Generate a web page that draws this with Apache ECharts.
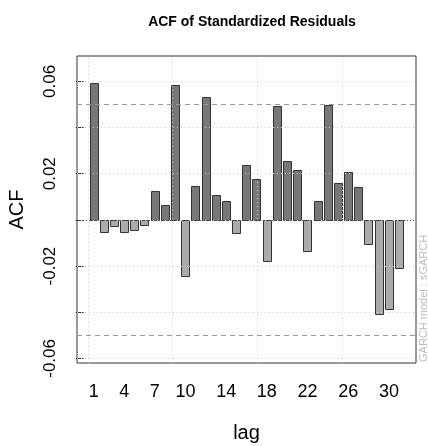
<!DOCTYPE html>
<html>
<head>
<meta charset="utf-8">
<script src="https://cdn.jsdelivr.net/npm/echarts@6/dist/echarts.min.js"></script>
<style>
  html, body { margin: 0; padding: 0; background: #fff; }
  #chart { width: 428px; height: 446px; }
</style>
</head>
<body>
<div id="chart"></div>
<script>
// lags and autocorrelations
const lags = [1, 2, 3, 4, 5, 6, 7, 8, 9, 10, 11, 12, 13, 14, 15, 16, 17, 18, 19, 20, 21, 22, 23, 24, 25, 26, 27, 28, 29, 30, 31]
const acf = [
  0.0593, -0.0051, -0.0025, -0.0051, -0.0045, -0.0022, 0.0123, 0.0065, 0.0584, -0.0242,
  0.0145, 0.0532, 0.0108, 0.0080, -0.0058, 0.0236, 0.0178, -0.0178, 0.0493, 0.0253,
  0.0218, -0.0136, 0.0081, 0.0499, 0.0159, 0.0208, 0.0142, -0.0106, -0.0406, -0.0388,
  -0.0207
]
const confBound = 0.0512

// tick labels
const xLabels = [1, 4, 7, 10, 14, 18, 22, 26, 30]
const yTicks = [-0.06, -0.04, -0.02, 0, 0.02, 0.04, 0.06]
const yLabels = [-0.06, -0.02, 0.02, 0.06]
// R grid() lines sit at barplot units 0,10,20,30 -> in lag units
const xGrid = [0.4167, 8.75, 17.0833, 25.4167]

const FONT = "'Liberation Sans', Arial, sans-serif"
const BAR_W = 0.8333 // bar width in lag units (barplot space = 0.2)

const chart = echarts.init(document.getElementById('chart'), null, { renderer: 'canvas' })

const gridLine = { color: '#cfcfcf', width: 1, type: [1, 3] }

const markData = []
xGrid.forEach(v => markData.push({ xAxis: v, lineStyle: gridLine }))
yTicks.forEach(v => markData.push({ yAxis: v, lineStyle: gridLine }))
markData.push({ yAxis: confBound, lineStyle: { color: '#9a9a9a', width: 1, type: [5, 4] } })
markData.push({ yAxis: -confBound, lineStyle: { color: '#9a9a9a', width: 1, type: [5, 4] } })
markData.push({ yAxis: 0, lineStyle: { color: '#555', width: 1, type: [1, 2] } })

// draw a bar from 0 to the acf value
function renderBar(params, api) {
  const x = api.value(0)
  const y = api.value(1)
  const base = api.coord([x, 0])
  const top = api.coord([x, y])
  const w = api.size([BAR_W, 0])[0]
  const left = Math.round(base[0] - w / 2) + 0.5
  const y0 = Math.round(Math.min(base[1], top[1])) + 0.5
  const y1 = Math.round(Math.max(base[1], top[1])) + 0.5
  return {
    type: 'rect',
    shape: { x: left, y: y0, width: Math.round(w), height: y1 - y0 },
    style: {
      fill: y >= 0 ? '#787878' : '#ababab',
      stroke: '#333',
      lineWidth: 1
    }
  }
}

const option = {
  animation: false,
  title: {
    text: 'ACF of Standardized Residuals',
    left: 247,
    textAlign: 'center',
    top: 10,
    textStyle: { fontFamily: FONT, fontSize: 14, fontWeight: 'bold', color: '#000' }
  },
  grid: {
    left: 77,
    right: 12,
    top: 56,
    bottom: 83,
    outerBoundsMode: 'none',
    show: true,
    borderColor: '#333',
    borderWidth: 1,
    backgroundColor: '#fff'
  },
  xAxis: {
    type: 'value',
    min: -0.65,
    max: 32.65,
    name: 'lag',
    nameLocation: 'middle',
    nameGap: 60,
    nameTextStyle: { fontFamily: FONT, fontSize: 20, color: '#000' },
    axisLine: { show: false },
    axisTick: { show: false },
    splitLine: { show: false },
    axisLabel: {
      customValues: xLabels,
      margin: 20,
      fontFamily: FONT,
      fontSize: 18,
      color: '#000'
    }
  },
  yAxis: {
    type: 'value',
    min: -0.062,
    max: 0.071,
    name: 'ACF',
    nameLocation: 'middle',
    nameRotate: 90,
    nameGap: 50,
    nameTextStyle: { fontFamily: FONT, fontSize: 20, color: '#000' },
    axisLine: { show: false },
    splitLine: { show: false },
    axisTick: { show: true, customValues: yTicks, length: 8, lineStyle: { color: '#333' } },
    axisLabel: {
      customValues: yLabels,
      rotate: 90,
      margin: 18,
      fontFamily: FONT,
      fontSize: 17,
      color: '#000',
      formatter: v => v.toFixed(2)
    }
  },
  graphic: [
    {
      type: 'text',
      x: 424,
      y: 362,
      rotation: Math.PI / 2,
      style: {
        text: 'GARCH model : sGARCH',
        fontFamily: FONT,
        fontSize: 11,
        fill: '#bdbdbd',
        textAlign: 'left',
        textVerticalAlign: 'middle'
      }
    }
  ],
  series: [
    {
      type: 'custom',
      renderItem: renderBar,
      encode: { x: 0, y: 1 },
      data: lags.map((l, i) => [l, acf[i]]),
      z: 2
    },
    {
      // reference lines on top of the bars, as R draws them
      type: 'line',
      data: [],
      z: 3,
      markLine: {
        silent: true,
        symbol: 'none',
        label: { show: false },
        data: markData
      }
    }
  ]
}

chart.setOption(option)
</script>
</body>
</html>
